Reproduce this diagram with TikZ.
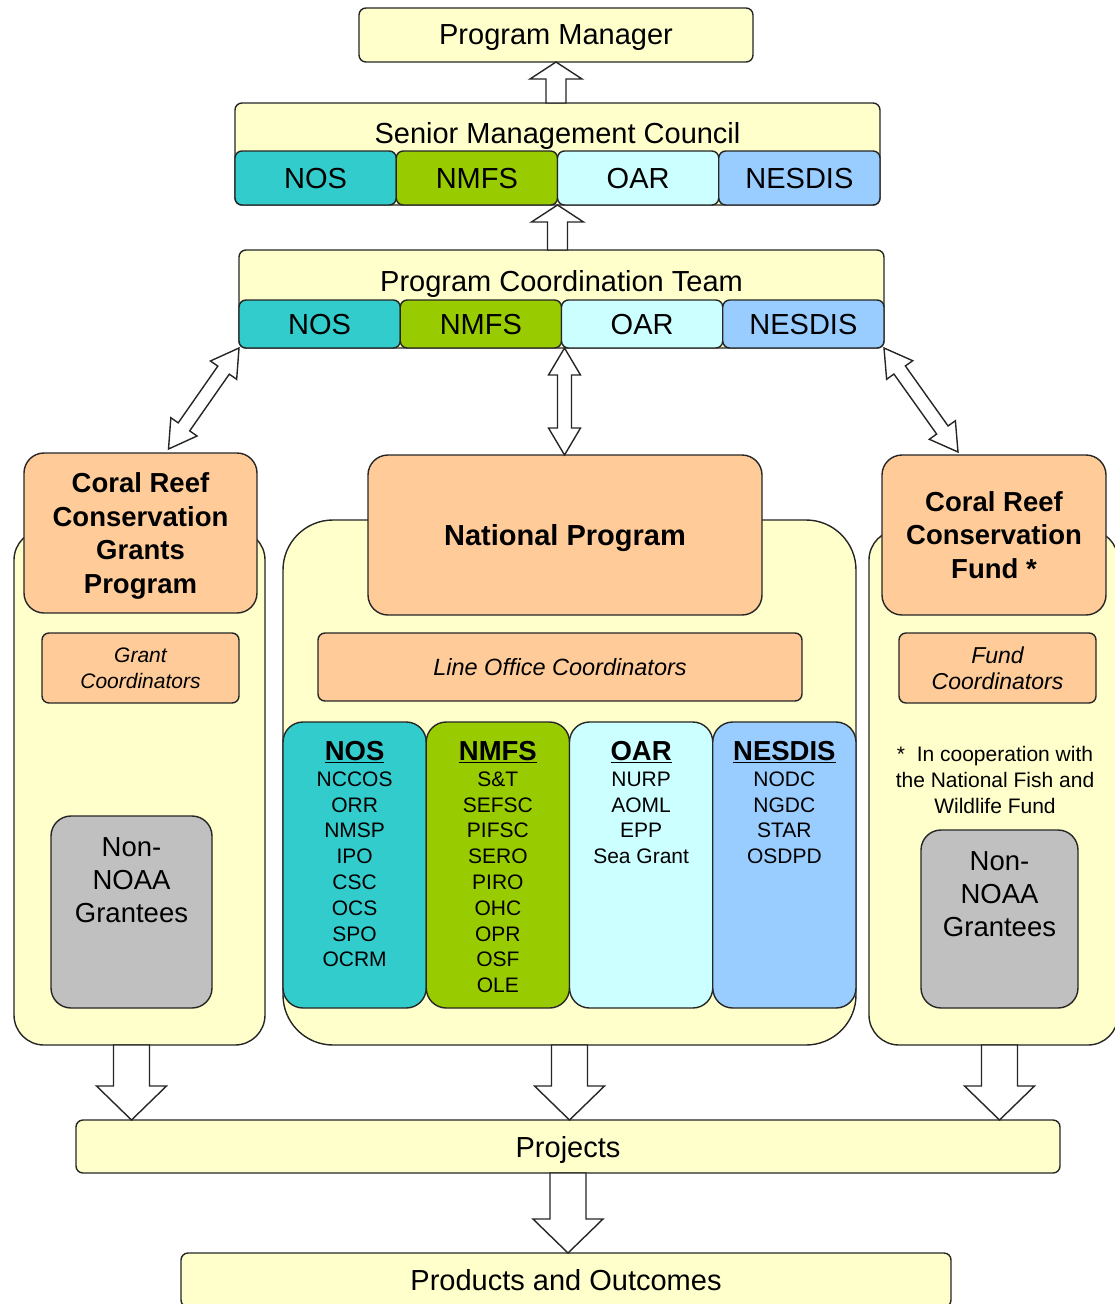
\documentclass[tikz,border=0pt]{standalone}
\usepackage{fontspec}
\setmainfont{Liberation Sans}
\usepackage{xcolor}
\usepackage{tikz}
\usetikzlibrary{
    positioning,
    calc,
}

\definecolor{paleyellow}{HTML}{FFFFCC}
\definecolor{peach}{HTML}{FFCC99}
\definecolor{nosteal}{HTML}{33CCCC}
\definecolor{nmfsgreen}{HTML}{99CC00}
\definecolor{oarcyan}{HTML}{CCFFFF}
\definecolor{nesdisblue}{HTML}{99CCFF}
\definecolor{granteegray}{HTML}{C0C0C0}

\newcommand{\regfont}{\fontsize{29}{34}\selectfont}
\newcommand{\hdfont}{\fontsize{27.5}{33.5}\selectfont\bfseries}
\newcommand{\npfont}{\fontsize{29}{34}\selectfont\bfseries}
\newcommand{\listfont}{\fontsize{21}{25.8}\selectfont}
\newcommand{\notefont}{\fontsize{21}{26}\selectfont}
\newcommand{\granfont}{\fontsize{27.5}{33}\selectfont}
\newcommand{\coltitle}[1]{{\fontsize{27.5}{25.8}\selectfont\bfseries\underline{#1}}}

\def\shafthalf{10pt}
\def\headhalf{26pt}
\def\headlen{17pt}

\begin{document}
\begin{tikzpicture}[
        x=1pt, y=-1pt,
        box/.style={
            draw=black!85, line width=1.4pt, rounded corners=7pt,
            fill=#1, inner sep=0pt, outer sep=0pt, align=center
        },
        box/.default=paleyellow,
        office/.style={box=#1, minimum width=161.25pt, font=\regfont, text depth=0pt},
        column/.style={box=#1, minimum width=143.25pt, minimum height=286pt},
        listtext/.style={font=\listfont, align=center, inner sep=0pt, anchor=north},
        shaft half/.store in=\shafthalf,
        head half/.store in=\headhalf,
        head len/.store in=\headlen,
        arrowsmall/.style={shaft half=10pt, head half=26pt, head len=17pt},
        arrowmid/.style={shaft half=7pt, head half=16pt, head len=27pt},
        arrowbig/.style={shaft half=18pt, head half=35pt, head len=34pt},
        fatarrow/.style={
            draw=black!85, line width=1.4pt, fill=white, line join=miter,
            to path={
                let \p1=(\tikztostart), \p2=(\tikztotarget),
                    \p3=($(\p2)!\headlen!(\p1)$) in
                ($(\p1)!\shafthalf!90:(\p2)$) -- ($(\p3)!\shafthalf!90:(\p2)$)
                -- ($(\p3)!\headhalf!90:(\p2)$) -- (\p2)
                -- ($(\p3)!\headhalf!-90:(\p2)$) -- ($(\p3)!\shafthalf!-90:(\p2)$)
                -- ($(\p1)!\shafthalf!-90:(\p2)$) -- cycle
            }
        },
        fatarrows/.style={
            draw=black!85, line width=1.4pt, fill=white, line join=miter,
            to path={
                let \p1=(\tikztostart), \p2=(\tikztotarget),
                    \p3=($(\p2)!\headlen!(\p1)$), \p4=($(\p1)!\headlen!(\p2)$) in
                (\p1) -- ($(\p4)!\headhalf!90:(\p2)$) -- ($(\p4)!\shafthalf!90:(\p2)$)
                -- ($(\p3)!\shafthalf!90:(\p2)$) -- ($(\p3)!\headhalf!90:(\p2)$) -- (\p2)
                -- ($(\p3)!\headhalf!-90:(\p2)$) -- ($(\p3)!\shafthalf!-90:(\p2)$)
                -- ($(\p4)!\shafthalf!-90:(\p2)$) -- ($(\p4)!\headhalf!-90:(\p2)$) -- cycle
            }
        },
    ]
    \useasboundingbox (0,0) rectangle (1114,1304);

    % ── Programme containers ──
    \node[box, rounded corners=30pt, minimum width=251pt, minimum height=515pt] (leftbg) at (139.5,787.5) {};
    \node[box, rounded corners=50pt, minimum width=573pt, minimum height=525pt] (midbg) at (569.5,782.5) {};
    \node[box, rounded corners=30pt, minimum width=249pt, minimum height=515pt] (rightbg) at (993.5,787.5) {};

    % ── Program Manager ──
    \node[box, minimum width=394pt, minimum height=54pt, font=\regfont, text depth=0pt] (pm) at (556,35) {Program Manager};

    % ── Senior Management Council ──
    \node[box, minimum width=645pt, minimum height=102pt] (smc) at (557.5,154) {};
    \node[font=\regfont, anchor=base] (smctitle) at ($(smc.north)+(0,40)$) {Senior Management Council};
    \node[office=nosteal, minimum height=54pt, anchor=south west] (smcnos) at (smc.south west) {NOS};
    \node[office=nmfsgreen, minimum height=54pt, right=0pt of smcnos] (smcnmfs) {NMFS};
    \node[office=oarcyan, minimum height=54pt, right=0pt of smcnmfs] (smcoar) {OAR};
    \node[office=nesdisblue, minimum height=54pt, right=0pt of smcoar] (smcnesdis) {NESDIS};

    % ── Program Coordination Team ──
    \node[box, minimum width=645pt, minimum height=98pt] (pct) at (561.5,299) {};
    \node[font=\regfont, anchor=base] (pcttitle) at ($(pct.north)+(0,41)$) {Program Coordination Team};
    \node[office=nosteal, minimum height=48pt, anchor=south west] (pctnos) at (pct.south west) {NOS};
    \node[office=nmfsgreen, minimum height=48pt, right=0pt of pctnos] (pctnmfs) {NMFS};
    \node[office=oarcyan, minimum height=48pt, right=0pt of pctnmfs] (pctoar) {OAR};
    \node[office=nesdisblue, minimum height=48pt, right=0pt of pctoar] (pctnesdis) {NESDIS};

    % ── Grants program ──
    \node[box=peach, rounded corners=20pt, minimum width=233pt, minimum height=160pt, font=\hdfont, text depth=0pt] (crcgp) at (140.5,533)
        {Coral Reef\\Conservation\\Grants\\Program};
    \node[box=peach, minimum width=197pt, minimum height=70pt, font=\listfont\itshape] (grantcoord) at (140.5,668)
        {Grant\\Coordinators};
    \node[box=granteegray, rounded corners=20pt, minimum width=161pt, minimum height=192pt] (grantees1) at (131.5,912) {};
    \node[font=\granfont, align=center, inner sep=0pt, anchor=north] (grantees1txt) at ($(grantees1.north)+(0,21)$)
        {Non-\\NOAA\\Grantees};

    % ── National Program ──
    \node[box=peach, rounded corners=20pt, minimum width=394pt, minimum height=160pt, font=\npfont, text depth=0pt] (natprog) at (565,535)
        {National Program};
    \node[box=peach, minimum width=484pt, minimum height=68pt, font=\fontsize{23.5}{28}\selectfont\itshape] (linecoord) at (560,667)
        {Line Office Coordinators};
    \node[column=nosteal, rounded corners=20pt, anchor=north west] (colnos) at (283,722) {};
    \node[column=nmfsgreen, rounded corners=20pt, right=0pt of colnos] (colnmfs) {};
    \node[column=oarcyan, rounded corners=20pt, right=0pt of colnmfs] (coloar) {};
    \node[column=nesdisblue, rounded corners=20pt, right=0pt of coloar] (colnesdis) {};
    \node[listtext, below=19pt of colnos.north] (nostxt)
        {\coltitle{NOS}\\NCCOS\\ORR\\NMSP\\IPO\\CSC\\OCS\\SPO\\OCRM};
    \node[listtext, below=19pt of colnmfs.north] (nmfstxt)
        {\coltitle{NMFS}\\S\&T\\SEFSC\\PIFSC\\SERO\\PIRO\\OHC\\OPR\\OSF\\OLE};
    \node[listtext, below=19pt of coloar.north] (oartxt)
        {\coltitle{OAR}\\NURP\\AOML\\EPP\\Sea Grant};
    \node[listtext, below=19pt of colnesdis.north] (nesdistxt)
        {\coltitle{NESDIS}\\NODC\\NGDC\\STAR\\OSDPD};

    % ── Conservation fund ──
    \node[box=peach, rounded corners=20pt, minimum width=224pt, minimum height=160pt, font=\hdfont, text depth=0pt] (crcf) at (994,535)
        {Coral Reef\\Conservation\\Fund *};
    \node[box=peach, minimum width=197pt, minimum height=70pt, font=\fontsize{23}{26}\selectfont\itshape] (fundcoord) at (997.5,668)
        {Fund\\Coordinators};
    \node[font=\notefont, align=center, inner sep=0pt] (fundnote) at (995,780)
        {*\ \ In cooperation with\\the National Fish and\\Wildlife Fund};
    \node[box=granteegray, rounded corners=20pt, minimum width=157pt, minimum height=178pt] (grantees2) at (999.5,919) {};
    \node[font=\granfont, align=center, inner sep=0pt, anchor=north] (grantees2txt) at ($(grantees2.north)+(0,21)$)
        {Non-\\NOAA\\Grantees};

    % ── Projects and outcomes ──
    \node[box, minimum width=984pt, minimum height=53pt, font=\regfont, text depth=0pt] (projects) at (568,1146.5) {Projects};
    \node[box, minimum width=770pt, minimum height=54pt, font=\regfont, text depth=0pt] (products) at (566,1280) {Products and Outcomes};

    % ── Arrows ──
    \coordinate (leftend) at ($(crcgp.north)+(28,-4)$);
    \coordinate (rightend) at ($(crcf.north)+(-36,-3)$);
    \draw[fatarrow, arrowsmall] (smc.north -| pm.south) to (pm.south);
    \draw[fatarrow, arrowsmall] (pct.north -| smc.south) to (smc.south);
    \draw[fatarrows, arrowmid] (pctnos.south west) to (leftend);
    \draw[fatarrows, arrowmid] ($(pctnmfs.south east)+(3,0)$) to (natprog.north -| {$(pctnmfs.south east)+(3,0)$});
    \draw[fatarrows, arrowmid] (pctnesdis.south east) to (rightend);
    \draw[fatarrow, arrowbig] (leftbg.south -| grantees1.south) to (projects.north -| grantees1.south);
    \draw[fatarrow, arrowbig] (midbg.south) to (projects.north -| midbg.south);
    \draw[fatarrow, arrowbig] (rightbg.south -| grantees2.south) to (projects.north -| grantees2.south);
    \draw[fatarrow, arrowbig] (projects.south) to (products.north -| projects.south);

\end{tikzpicture}
\end{document}
